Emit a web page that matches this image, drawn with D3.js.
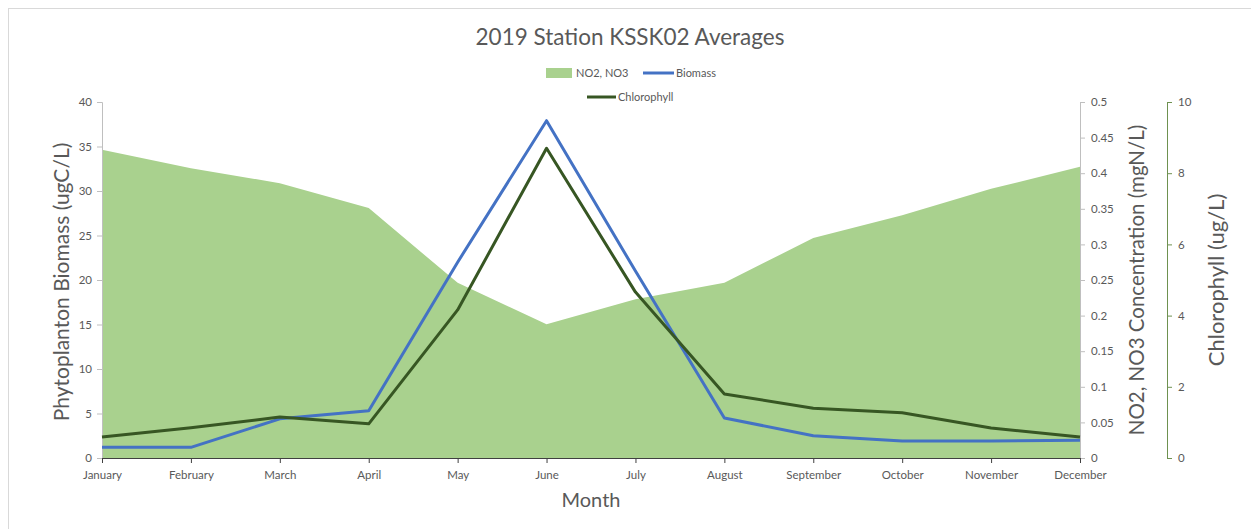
<!DOCTYPE html>
<html lang="en">
<head>
  <meta charset="UTF-8">
  <title>2019 Station KSSK02 Averages</title>
  <script src="https://d3js.org/d3.v7.min.js"></script>
  <style>
    body { margin: 0; background: #fff; font-family: Lato, "Open Sans", sans-serif; }
    text { fill: #595959; }
  </style>
</head>
<body>
  <div id="chart"></div>
  <script>
    // data
    const months = ["January", "February", "March", "April", "May", "June",
      "July", "August", "September", "October", "November", "December"];
    const nitrate = [0.433, 0.407, 0.386, 0.351, 0.246, 0.188, 0.223, 0.246, 0.309, 0.341, 0.378, 0.409];
    const biomass = [1.2, 1.2, 4.4, 5.3, 22.0, 37.9, 21.0, 4.5, 2.5, 1.9, 1.9, 2.0];
    const chlorophyll = [0.59, 0.85, 1.15, 0.96, 4.16, 8.7, 4.66, 1.8, 1.4, 1.27, 0.84, 0.59];
    const leftTicks = [0, 5, 10, 15, 20, 25, 30, 35, 40];
    const no3Ticks = [0, 0.05, 0.1, 0.15, 0.2, 0.25, 0.3, 0.35, 0.4, 0.45, 0.5];
    const chlTicks = [0, 2, 4, 6, 8, 10];

    const width = 1251, height = 529;
    const svg = d3.select("#chart").append("svg")
      .attr("width", width)
      .attr("height", height);

    // chart frame
    svg.append("rect")
      .attr("x", 8.5).attr("y", 8.5)
      .attr("width", 1260).attr("height", 530)
      .attr("fill", "none")
      .attr("stroke", "#d9d9d9");

    const x = d3.scalePoint().domain(months).range([102, 1080]);
    const yLeft = d3.scaleLinear().domain([0, 40]).range([458, 102]);
    const yNo3 = d3.scaleLinear().domain([0, 0.5]).range([458, 102]);
    const yChl = d3.scaleLinear().domain([0, 10]).range([458, 102]);

    // NO2, NO3 area
    svg.append("path")
      .datum(nitrate)
      .attr("fill", "#a9d18e")
      .attr("d", d3.area()
        .x((d, i) => x(months[i]))
        .y0(yNo3(0))
        .y1(d => yNo3(d)));

    // axes
    const gLeft = svg.append("g")
      .attr("transform", "translate(102,0)")
      .call(d3.axisLeft(yLeft).tickValues(leftTicks).tickSize(5).tickPadding(5));
    gLeft.selectAll("line, path").attr("stroke", "#bfbfbf");

    const gNo3 = svg.append("g")
      .attr("transform", "translate(1080,0)")
      .call(d3.axisRight(yNo3).tickValues(no3Ticks).tickSize(5).tickPadding(6)
        .tickFormat(d => d === 0 ? "0" : String(+d.toFixed(2))));
    gNo3.selectAll("line, path").attr("stroke", "#bfbfbf");

    const gChl = svg.append("g")
      .attr("transform", "translate(1167,0)")
      .call(d3.axisRight(yChl).tickValues(chlTicks).tickSize(5).tickPadding(6));
    gChl.selectAll("line, path").attr("stroke", "#6e9150");

    const gBottom = svg.append("g")
      .attr("transform", "translate(0,458)")
      .call(d3.axisBottom(x).tickSize(5).tickSizeOuter(0).tickPadding(8));
    gBottom.selectAll("line, path").attr("stroke", "#404040");

    svg.selectAll(".tick text")
      .attr("font-family", "Lato, sans-serif")
      .attr("font-size", 11.5)
      .attr("fill", "#595959");

    // lines
    svg.append("path")
      .datum(biomass)
      .attr("fill", "none")
      .attr("stroke", "#4472c4")
      .attr("stroke-width", 3)
      .attr("stroke-linejoin", "round")
      .attr("d", d3.line().x((d, i) => x(months[i])).y(d => yLeft(d)));

    svg.append("path")
      .datum(chlorophyll)
      .attr("fill", "none")
      .attr("stroke", "#375623")
      .attr("stroke-width", 3)
      .attr("stroke-linejoin", "round")
      .attr("d", d3.line().x((d, i) => x(months[i])).y(d => yChl(d)));

    // title
    svg.append("text")
      .attr("x", 630).attr("y", 45)
      .attr("text-anchor", "middle")
      .attr("font-size", 22.5)
      .text("2019 Station KSSK02 Averages");

    // axis titles
    svg.append("text")
      .attr("transform", "translate(69,282) rotate(-90)")
      .attr("text-anchor", "middle")
      .attr("font-size", 21)
      .text("Phytoplanton Biomass (ugC/L)");

    svg.append("text")
      .attr("transform", "translate(1144,280) rotate(-90)")
      .attr("text-anchor", "middle")
      .attr("font-size", 20.5)
      .text("NO2, NO3 Concentration (mgN/L)");

    svg.append("text")
      .attr("transform", "translate(1224,280) rotate(-90)")
      .attr("text-anchor", "middle")
      .attr("font-size", 22)
      .text("Chlorophyll (ug/L)");

    svg.append("text")
      .attr("x", 591).attr("y", 507)
      .attr("text-anchor", "middle")
      .attr("font-size", 20)
      .text("Month");

    // legend
    const legend = svg.append("g").attr("font-size", 11);
    legend.append("rect")
      .attr("x", 546).attr("y", 68).attr("width", 26).attr("height", 10)
      .attr("fill", "#a9d18e");
    legend.append("text").attr("x", 576).attr("y", 77).text("NO2, NO3");
    legend.append("line")
      .attr("x1", 643).attr("x2", 674).attr("y1", 73).attr("y2", 73)
      .attr("stroke", "#4472c4").attr("stroke-width", 3);
    legend.append("text").attr("x", 676).attr("y", 77).text("Biomass");
    legend.append("line")
      .attr("x1", 587).attr("x2", 616).attr("y1", 97).attr("y2", 97)
      .attr("stroke", "#375623").attr("stroke-width", 3);
    legend.append("text").attr("x", 618).attr("y", 101).text("Chlorophyll");
  </script>
</body>
</html>
